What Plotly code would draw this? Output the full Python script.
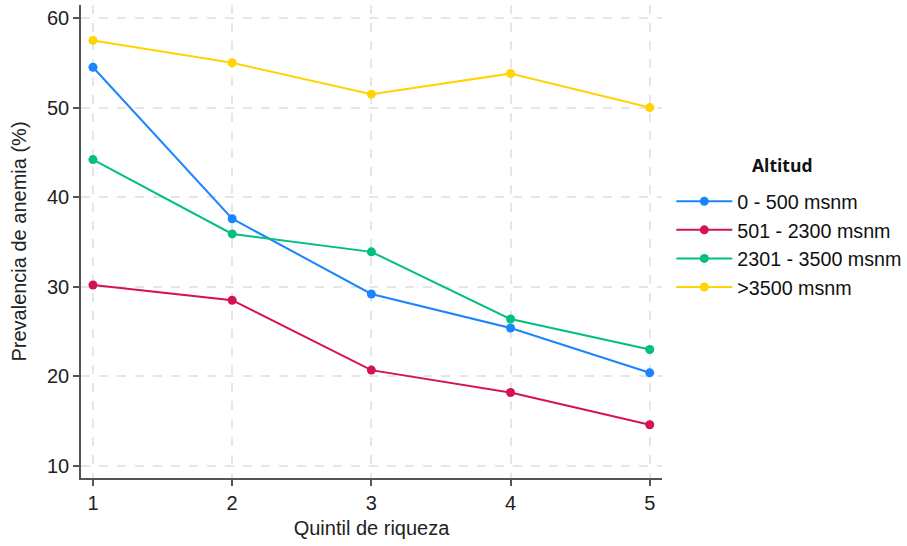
import plotly.graph_objects as go

quintiles = [1, 2, 3, 4, 5]
series_names = ["0 - 500 msnm", "501 - 2300 msnm", "2301 - 3500 msnm", ">3500 msnm"]
alt_0_500 = [54.5, 37.6, 29.2, 25.4, 20.4]
alt_501_2300 = [30.2, 28.5, 20.7, 18.2, 14.6]
alt_2301_3500 = [44.2, 35.9, 33.9, 26.4, 23.0]
alt_3500_plus = [57.5, 55.0, 51.5, 53.8, 50.0]
colors = ["#1a85ff", "#d41159", "#00bf7f", "#ffd400"]

fig = go.Figure()
for name, vals, col in zip(series_names,
                           [alt_0_500, alt_501_2300, alt_2301_3500, alt_3500_plus],
                           colors):
    fig.add_trace(go.Scatter(x=quintiles, y=vals, mode="lines+markers", name=name,
                             line=dict(color=col, width=2),
                             marker=dict(color=col, size=9)))

axis_common = dict(showline=True, linecolor="#555555", linewidth=1.5,
                   ticks="outside", ticklen=6, tickcolor="#555555", tickwidth=1.5,
                   showgrid=True, gridcolor="#e6e6e6", griddash="dash", gridwidth=1.5,
                   zeroline=False, tickfont=dict(size=20, color="#222222"),
                   mirror=False, automargin=False)

fig.update_layout(
    width=907, height=546,
    margin=dict(l=81, r=245, t=5, b=68, autoexpand=False),
    plot_bgcolor="white", paper_bgcolor="white",
    font=dict(family="Liberation Sans, Arial, sans-serif", color="#222222"),
    xaxis=dict(range=[0.914, 5.088], tickvals=quintiles,
               title=dict(text="Quintil de riqueza", font=dict(size=20), standoff=8),
               **axis_common),
    yaxis=dict(range=[8.66, 61.45], tickvals=[10, 20, 30, 40, 50, 60],
               title=dict(text="Prevalencia de anemia (%)", font=dict(size=20), standoff=15),
               **axis_common),
    legend=dict(x=1.016, xanchor="left", y=0.626, yanchor="top",
                font=dict(size=19.7, color="#111111"),
                itemwidth=56,
                bgcolor="rgba(0,0,0,0)"),
    annotations=[dict(text="<b>Altitud</b>", x=1.208, y=0.662, xref="paper", yref="paper",
                      xanchor="center", yanchor="middle", showarrow=False,
                      font=dict(size=17.5, family="Open Sans, sans-serif", color="#111111"))],
)

fig.write_html("out.html", config={"displayModeBar": False},
               post_script="document.body.style.margin='0';")
